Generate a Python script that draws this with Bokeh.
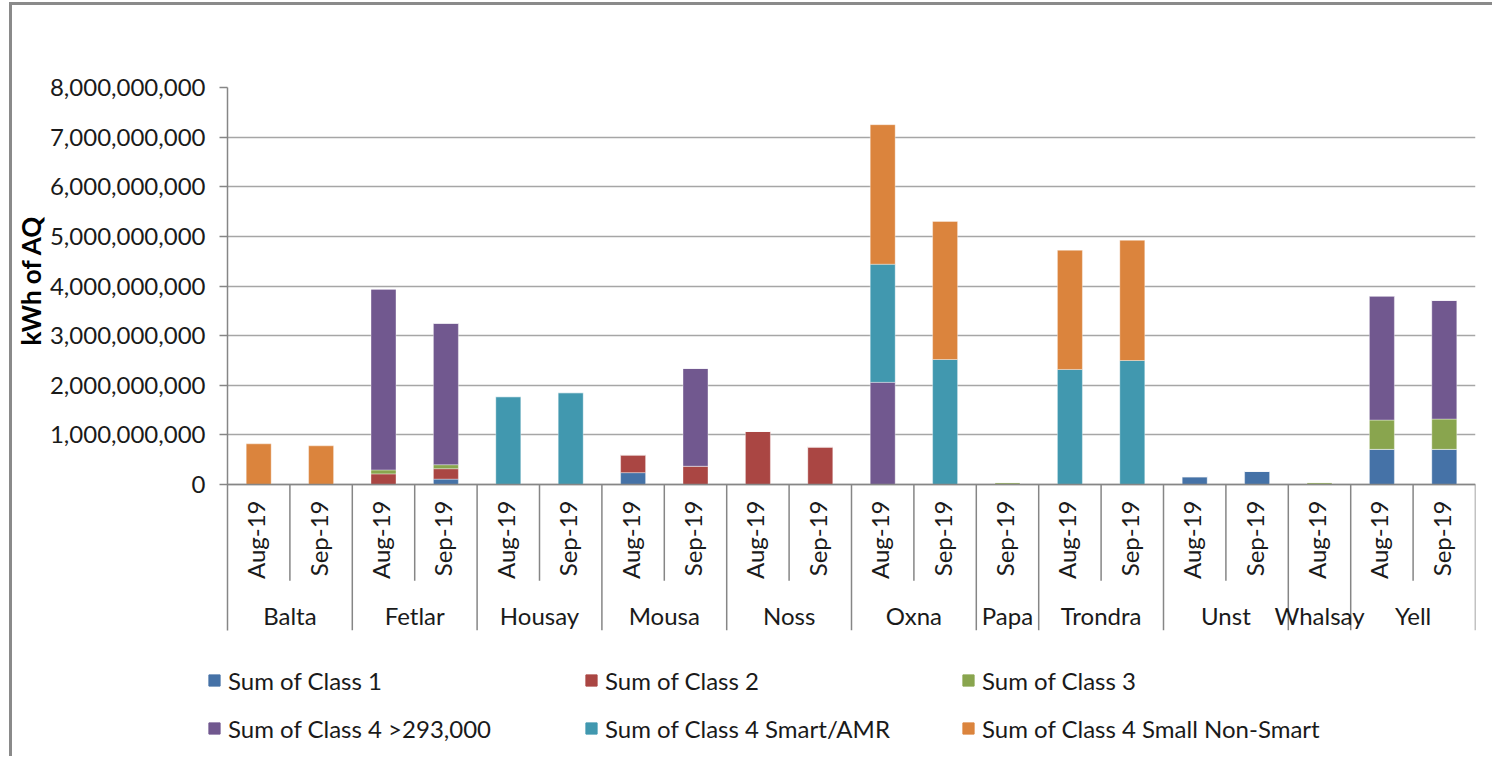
import math
from bokeh.plotting import figure
from bokeh.layouts import column
from bokeh.models import (ColumnDataSource, FixedTicker, NumeralTickFormatter, Range1d,
                          Legend, LegendItem, Title, Span)
from bokeh.core.properties import value
from bokeh.embed import file_html
from bokeh.resources import INLINE

# ---------------- data ----------------
islands = ["Balta", "Balta", "Fetlar", "Fetlar", "Housay", "Housay", "Mousa", "Mousa",
           "Noss", "Noss", "Oxna", "Oxna", "Papa", "Trondra", "Trondra", "Unst", "Unst",
           "Whalsay", "Yell", "Yell"]
months = ["Aug-19", "Sep-19", "Aug-19", "Sep-19", "Aug-19", "Sep-19", "Aug-19", "Sep-19",
          "Aug-19", "Sep-19", "Aug-19", "Sep-19", "Sep-19", "Aug-19", "Sep-19", "Aug-19",
          "Sep-19", "Aug-19", "Aug-19", "Sep-19"]

class1 = [0, 0, 0, 0.11e9, 0, 0, 0.24e9, 0, 0, 0, 0, 0, 0, 0, 0, 0.16e9, 0.27e9, 0, 0.71e9, 0.71e9]
class2 = [0, 0, 0.215e9, 0.21e9, 0, 0, 0.36e9, 0.37e9, 1.07e9, 0.76e9, 0, 0, 0, 0, 0, 0, 0, 0, 0, 0]
class3 = [0, 0, 0.08e9, 0.08e9, 0, 0, 0, 0, 0, 0, 0, 0, 0.04e9, 0, 0, 0, 0, 0.04e9, 0.59e9, 0.61e9]
class4_large = [0, 0, 3.645e9, 2.85e9, 0, 0, 0, 1.97e9, 0, 0, 2.06e9, 0, 0, 0, 0, 0, 0, 0, 2.5e9, 2.39e9]
class4_smart = [0, 0, 0, 0, 1.77e9, 1.85e9, 0, 0, 0, 0, 2.38e9, 2.52e9, 0, 2.32e9, 2.5e9, 0, 0, 0, 0, 0]
class4_small = [0.82e9, 0.78e9, 0, 0, 0, 0, 0, 0, 0, 0, 2.81e9, 2.78e9, 0, 2.4e9, 2.42e9, 0, 0, 0, 0, 0]

series_names = ["Sum of Class 1", "Sum of Class 2", "Sum of Class 3",
                "Sum of Class 4 >293,000", "Sum of Class 4 Smart/AMR",
                "Sum of Class 4 Small Non-Smart"]
y_ticks = [0, 1e9, 2e9, 3e9, 4e9, 5e9, 6e9, 7e9, 8e9]
y_title = "kWh of AQ"

# ---------------- styles ----------------
colors = ["#4572A7", "#AA4643", "#89A54E", "#71588F", "#4198AF", "#DB843D"]
FONT = "Lato"
AXIS_COLOR = "#868686"
GRID_COLOR = "#a6a6a6"
Y_MIN = -2.94e9          # room below zero for the category labels
MONTH_LABEL_TOP = -0.32e9
MONTH_SEP_BOTTOM = -1.94e9
GROUP_LABEL_Y = -2.64e9

n = len(islands)
xs = [i + 0.5 for i in range(n)]
keys = ["c1", "c2", "c3", "c4l", "c4s", "c4n"]
source = ColumnDataSource(dict(x=xs, island=islands, month=months,
                               c1=class1, c2=class2, c3=class3,
                               c4l=class4_large, c4s=class4_smart, c4n=class4_small))

p = figure(width=1480, height=627, output_backend="svg", toolbar_location=None,
           x_range=Range1d(0, n), y_range=Range1d(Y_MIN, y_ticks[-1]),
           x_axis_location=None,
           min_border_left=213, min_border_right=17, min_border_top=82, min_border_bottom=2)
p.outline_line_color = None
p.xgrid.visible = False

# y axis
yax = p.yaxis[0]
yax.ticker = FixedTicker(ticks=y_ticks)
yax.formatter = NumeralTickFormatter(format="0,0")
yax.major_label_text_font = FONT
yax.major_label_text_font_size = "24px"
yax.major_label_text_color = "#1a1a1a"
yax.major_tick_in = 0
yax.major_tick_out = 8
yax.minor_tick_line_color = None
yax.axis_line_color = AXIS_COLOR
yax.axis_line_width = 1.5
yax.major_tick_line_color = AXIS_COLOR
yax.major_tick_line_width = 1.5
yax.major_label_standoff = 14
p.ygrid.ticker = FixedTicker(ticks=y_ticks)
p.ygrid.grid_line_color = GRID_COLOR
p.ygrid.grid_line_width = 1.5

# bars
renderers = p.vbar_stack(keys, x="x", width=0.4, source=source, color=colors,
                         line_color="white", line_alpha=0.35, line_width=1)

# x axis line at zero
p.add_layout(Span(location=0, dimension="width", line_color=AXIS_COLOR, line_width=1.5))

# separators between categories (short) and groups (long)
short_x, long_x = [], []
for i in range(1, n + 1):
    if i == n or islands[i] != islands[i - 1]:
        long_x.append(i)
    else:
        short_x.append(i)
p.segment(x0=short_x, x1=short_x, y0=[0] * len(short_x), y1=[MONTH_SEP_BOTTOM] * len(short_x),
          line_color=AXIS_COLOR, line_width=1.5)
p.segment(x0=long_x, x1=long_x, y0=[0] * len(long_x), y1=[Y_MIN] * len(long_x),
          line_color=AXIS_COLOR, line_width=1.5)

# month labels (rotated)
p.text(x=xs, y=[MONTH_LABEL_TOP] * n, text=months, angle=math.pi / 2,
       text_align="right", text_baseline="middle", x_offset=-3,
       text_font=value(FONT), text_font_size="24px", text_color="#1a1a1a")

# group labels
groups, centers = [], []
start = 0
for i in range(1, n + 1):
    if i == n or islands[i] != islands[i - 1]:
        groups.append(islands[start])
        centers.append((start + i) / 2)
        start = i
p.text(x=centers, y=[GROUP_LABEL_Y] * len(groups), text=groups,
       text_align="center", text_baseline="middle",
       text_font=value(FONT), text_font_size="24px", text_color="#1a1a1a")

# y axis title
p.add_layout(Title(text=y_title, align="left", offset=285, standoff=0,
                   text_font=FONT, text_font_style="bold", text_font_size="26px",
                   text_color="#000000"), "left")

# legend (separate strip below the chart)
lg = figure(width=1480, height=124, output_backend="svg", toolbar_location=None,
            x_range=Range1d(0, 1), y_range=Range1d(0, 1),
            x_axis_location=None, y_axis_location=None,
            min_border_left=0, min_border_right=0, min_border_top=0, min_border_bottom=0)
if "frame_align" in lg.properties():
    lg.frame_align = False
lg.outline_line_color = None
lg.grid.visible = False
nan = float("nan")
swatches = [lg.vbar(x=[nan], top=[nan], width=0.4, color=c) for c in colors]
items = [LegendItem(label=nm, renderers=[r]) for nm, r in zip(series_names, swatches)]
legend = Legend(items=items, location=(195, 9), orientation="horizontal", ncols=3,
                glyph_width=14, glyph_height=14, label_standoff=7, label_width=346,
                label_height=38, spacing=10, padding=0, margin=0,
                label_text_font=FONT, label_text_font_size="24px", label_text_color="#1a1a1a",
                background_fill_alpha=0, border_line_color=None)
lg.add_layout(legend, "center")

layout = column(p, lg, spacing=0)
layout.styles = {"border-left": "3px solid #8a8a8a", "border-top": "3px solid #8a8a8a",
                 "margin-left": "9px", "margin-top": "2px"}

open("out.html", "w").write(file_html(layout, INLINE))
